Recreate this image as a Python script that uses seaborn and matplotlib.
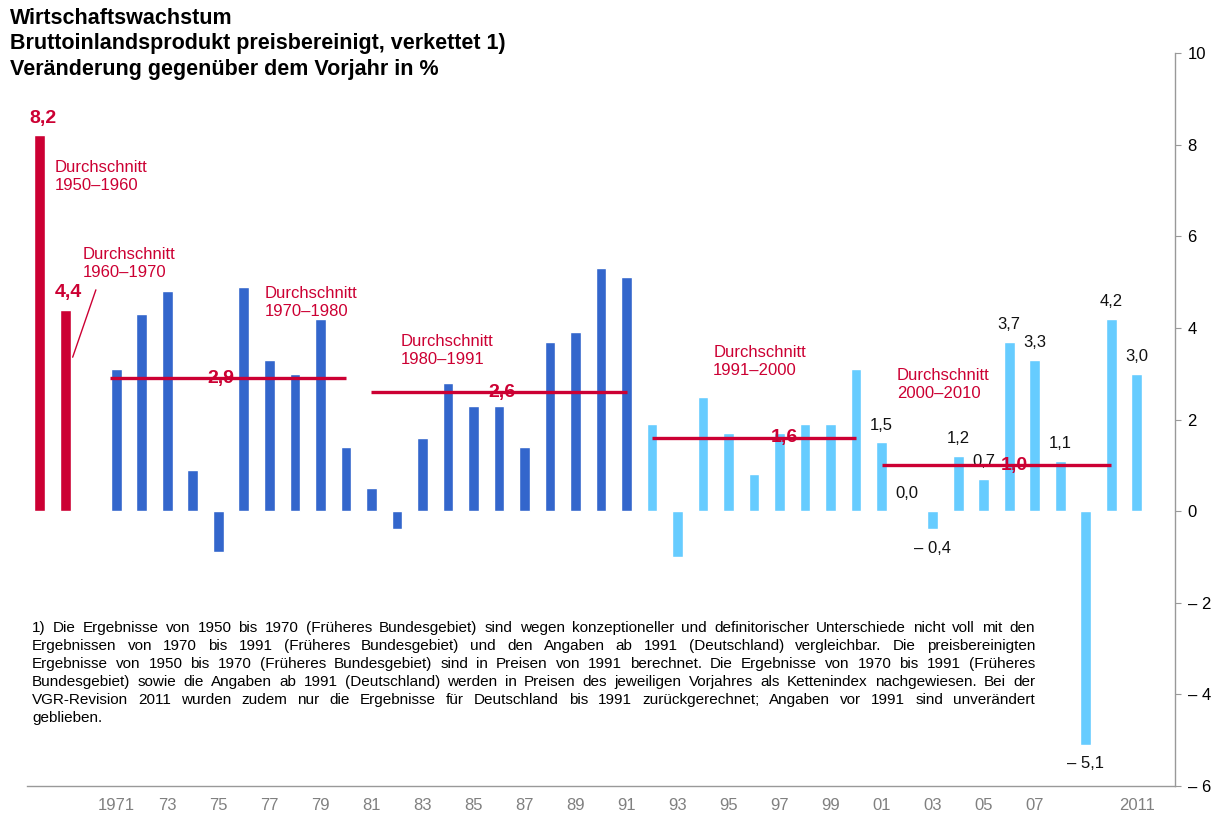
import numpy as np
import pandas as pd
import seaborn as sns
import matplotlib.pyplot as plt
from matplotlib.ticker import FixedLocator, FuncFormatter

# Werte (Veränderung gegenüber Vorjahr in %)
avg_labels = ["1950–1960", "1960–1970"]
avg_values = [8.2, 4.4]

years = list(range(1971, 2012))
growth = [3.1, 4.3, 4.8, 0.9, -0.9, 4.9, 3.3, 3.0, 4.2, 1.4,
          0.5, -0.4, 1.6, 2.8, 2.3, 2.3, 1.4, 3.7, 3.9, 5.3, 5.1,
          1.9, -1.0, 2.5, 1.7, 0.8, 1.7, 1.9, 1.9, 3.1,
          1.5, 0.0, -0.4, 1.2, 0.7, 3.7, 3.3, 1.1, -5.1, 4.2, 3.0]

# Durchschnittslinien: (erstes Jahr, letztes Jahr, Wert)
period_avgs = [(1971, 1980, 2.9), (1981, 1991, 2.6), (1992, 2000, 1.6), (2001, 2010, 1.0)]
period_texts = ["1950–1960", "1960–1970", "1970–1980", "1980–1991", "1991–2000", "2000–2010"]

tick_years = [y for y in range(1971, 2012, 2) if y != 2009]
tick_labels = ["1971"] + [str(y)[2:] for y in tick_years[1:-1]] + ["2011"]

footnote = [
    "1) Die Ergebnisse von 1950 bis 1970 (Früheres Bundesgebiet) sind wegen konzeptioneller und definitorischer Unterschiede nicht voll mit den",
    "Ergebnissen von 1970 bis 1991 (Früheres Bundesgebiet) und den Angaben ab 1991 (Deutschland) vergleichbar. Die preisbereinigten",
    "Ergebnisse von 1950 bis 1970 (Früheres Bundesgebiet) sind in Preisen von 1991 berechnet. Die Ergebnisse von 1970 bis 1991 (Früheres",
    "Bundesgebiet) sowie die Angaben ab 1991 (Deutschland) werden in Preisen des jeweiligen Vorjahres als Kettenindex nachgewiesen. Bei der",
    "VGR-Revision 2011 wurden zudem nur die Ergebnisse für Deutschland bis 1991 zurückgerechnet; Angaben vor 1991 sind unverändert",
    "geblieben.",
]

RED = "#cc0033"
DARK = "#3366cc"
LIGHT = "#66ccff"


def pos(year):
    # Position auf der x-Achse: zwei Durchschnittsbalken, eine Lücke, dann die Jahre
    return year - 1968


def fmt(v):
    s = f"{abs(v):.1f}".replace(".", ",")
    return "– " + s if v < 0 else s


df = pd.DataFrame({
    "x": [0, 1] + [pos(y) for y in years],
    "value": avg_values + growth,
    "group": ["avg"] * 2 + ["west" if y <= 1991 else "de" for y in years],
})

sns.set_style("white")
plt.rcParams["font.family"] = ["Liberation Sans", "DejaVu Sans"]
plt.rcParams["text.color"] = "black"

fig = plt.figure(figsize=(12.19, 8.14), dpi=100)
ax = fig.add_axes([27 / 1219, 28 / 814, 1148 / 1219, 733 / 814])

sns.barplot(data=df, x="x", y="value", hue="group", native_scale=True, dodge=False,
            palette={"avg": RED, "west": DARK, "de": LIGHT}, width=0.42,
            saturation=1, legend=False, ax=ax)

ax.set_xlim(-0.5, 44.5)
ax.set_ylim(-6, 10)

# Achsen
for side in ["left", "top"]:
    ax.spines[side].set_visible(False)
for side in ["right", "bottom"]:
    ax.spines[side].set_color("#999999")
    ax.spines[side].set_linewidth(1)
ax.yaxis.tick_right()
ax.yaxis.set_major_locator(FixedLocator(range(-6, 11, 2)))
ax.yaxis.set_major_formatter(FuncFormatter(lambda v, p: "0" if v == 0 else fmt(v).split(",")[0]))
ax.tick_params(axis="y", length=4, color="#999999", pad=5, labelsize=12, labelcolor="black")
ax.set_xticks([pos(y) for y in tick_years])
ax.set_xticklabels(tick_labels)
ax.tick_params(axis="x", length=0, pad=9, labelsize=12, labelcolor="#808080")
ax.set_xlabel("")
ax.set_ylabel("")

# Durchschnittswerte über den roten Balken
for i, v in enumerate(avg_values):
    ax.annotate(fmt(v), (i, v), xytext=(2, 6), textcoords="offset points",
                ha="center", va="bottom", color=RED, fontsize=14, fontweight="bold")

# Durchschnittslinien
label_x = [7.1, 18.1, 29.2, 38.2]
for (y0, y1, v), lx in zip(period_avgs, label_x):
    x0 = pos(y0) - (0.25 if y0 == 1971 else 0)
    ax.plot([x0, pos(y1)], [v, v], color=RED, lw=2.4, solid_capstyle="butt", zorder=4)
    ax.text(lx, v, fmt(v), color=RED, fontsize=14, fontweight="bold",
            ha="center", va="center", zorder=5)

# Beschriftung "Durchschnitt ..."
text_pos = [(0.59, 7.67), (1.69, 5.77), (8.82, 4.92), (14.16, 3.87), (26.4, 3.63), (33.6, 3.13)]
for t, (tx, ty) in zip(period_texts, text_pos):
    ax.text(tx, ty, "Durchschnitt\n" + t, color=RED, fontsize=12, ha="left", va="top",
            linespacing=1.3)
ax.plot([2.2, 1.29], [4.83, 3.36], color=RED, lw=1)

# Werte 2001 bis 2011
for y, v in zip(years, growth):
    if y < 2001:
        continue
    off = 7 if v >= 0 else -8
    ax.annotate(fmt(v), (pos(y), v), xytext=(0, off), textcoords="offset points",
                ha="center", va="bottom" if v >= 0 else "top", fontsize=12, color="#111111")

# Titel
title = ["Wirtschaftswachstum",
         "Bruttoinlandsprodukt preisbereinigt, verkettet 1)",
         "Veränderung gegenüber dem Vorjahr in %"]
for i, line in enumerate(title):
    fig.text(10 / 1219, 1 - (18 + 26 * i) / 814, line, fontsize=15.5, fontweight="bold",
             va="center", ha="left", color="black")

# Fußnote im Blocksatz
r = fig.canvas.get_renderer()
W, H = fig.bbox.width, fig.bbox.height
left, right = 32, 1035
fs = 11
for i, line in enumerate(footnote):
    yy = 1 - (628 + 18 * i) / H
    if i == len(footnote) - 1:
        fig.text(left / W, yy, line, fontsize=fs, va="center")
        continue
    words = line.split(" ")
    objs = [fig.text(0, yy, w, fontsize=fs, va="center") for w in words]
    widths = [o.get_window_extent(r).width for o in objs]
    gap = (right - left - sum(widths)) / (len(words) - 1)
    x = left
    for o, w in zip(objs, widths):
        o.set_x(x / W)
        x += w + gap

fig.savefig("out.png", dpi=100)
